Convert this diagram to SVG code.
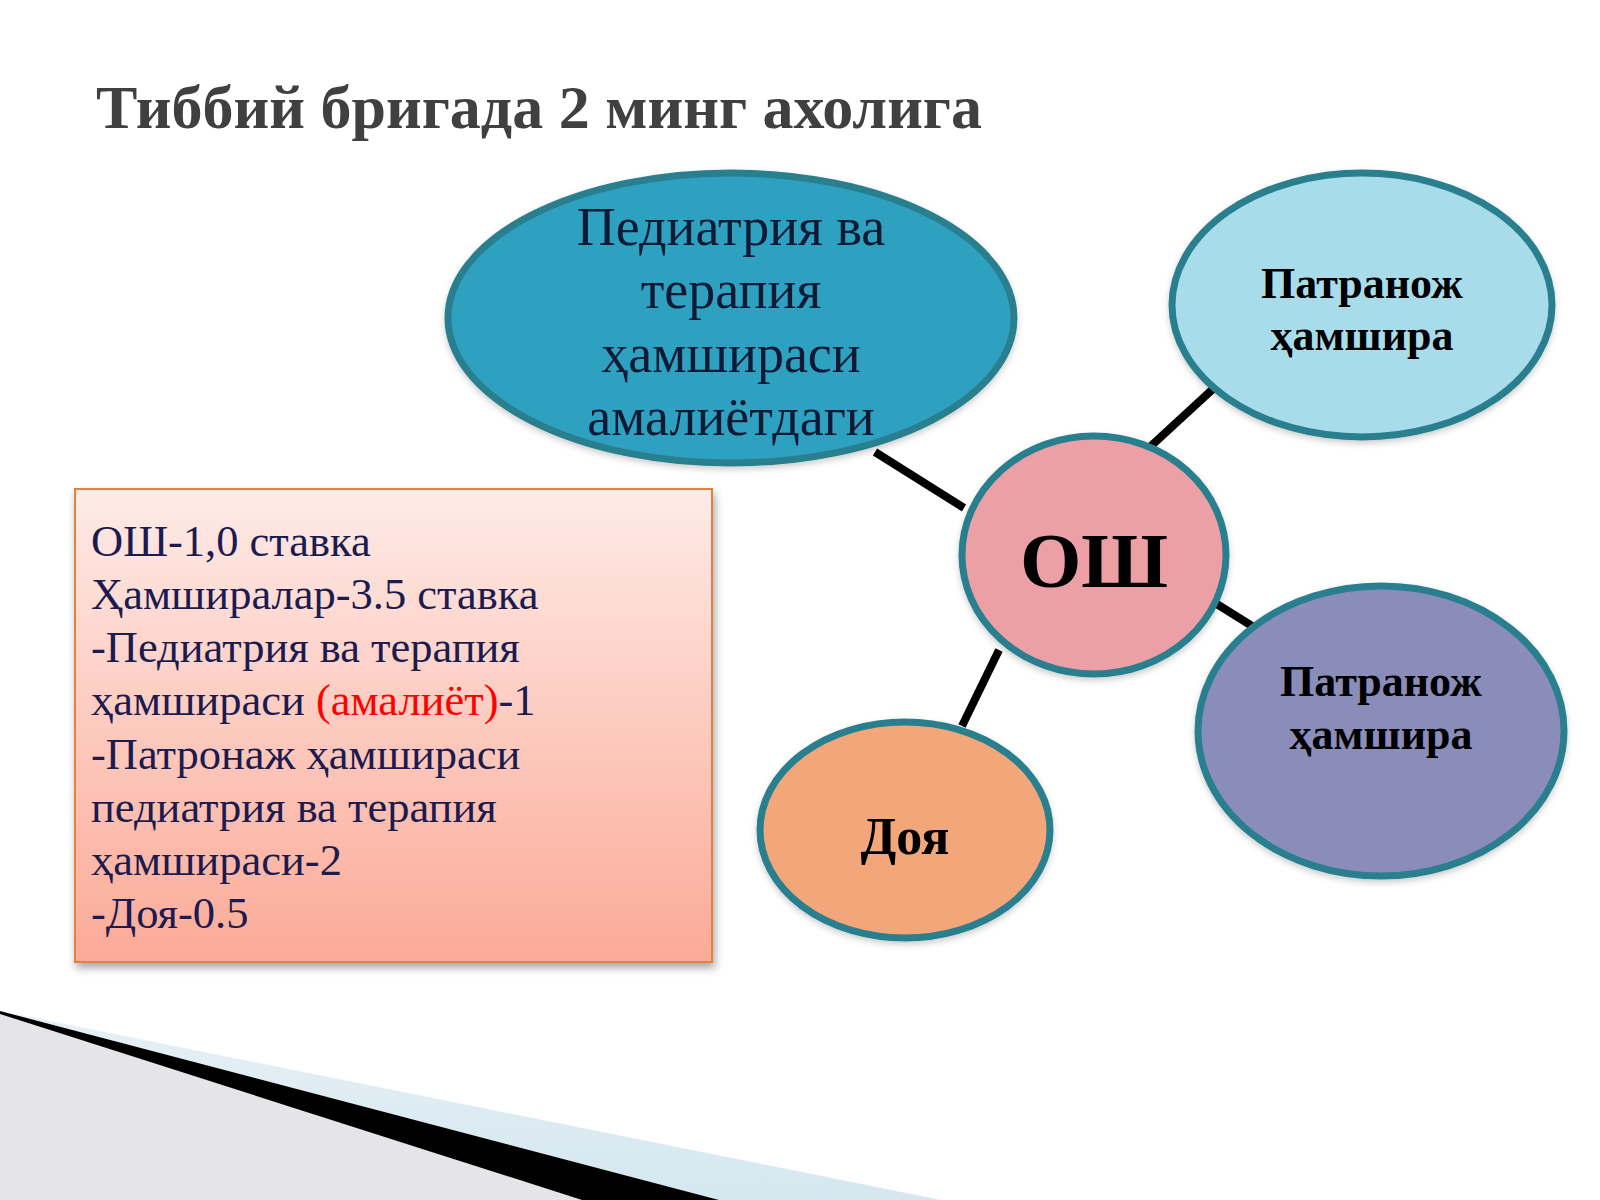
<svg xmlns="http://www.w3.org/2000/svg" width="1600" height="1200" viewBox="0 0 1600 1200">
  <defs>
    <linearGradient id="boxGrad" x1="0" y1="0" x2="0" y2="1">
      <stop offset="0" stop-color="#feebe7"/>
      <stop offset="1" stop-color="#fbaa97"/>
    </linearGradient>
    <linearGradient id="blueBand" x1="0" y1="0" x2="0" y2="1">
      <stop offset="0" stop-color="#e6f1f6"/>
      <stop offset="1" stop-color="#d5e7ef"/>
    </linearGradient>
    <filter id="shadow" x="-10%" y="-10%" width="130%" height="130%">
      <feDropShadow dx="2" dy="5" stdDeviation="4" flood-color="#000" flood-opacity="0.35"/>
    </filter>
    <filter id="soft" x="-10%" y="-10%" width="130%" height="130%">
      <feDropShadow dx="0" dy="3" stdDeviation="3" flood-color="#000" flood-opacity="0.2"/>
    </filter>
  </defs>
  <style>
    .title { font-family: "Liberation Serif", "Times New Roman", serif; font-weight: bold; font-size: 62px; fill: #404040; }
    .node { stroke: #2a7f8e; stroke-width: 7; }
    .lbl { font-family: "Liberation Serif", "Times New Roman", serif; text-anchor: middle; }
    .bold { font-weight: bold; fill: #000; }
    .reg { fill: #101a35; font-size: 54px; }
    .box { font-family: "Liberation Serif", "Times New Roman", serif; font-size: 44.5px; fill: #1b1b4f; }
    .red { fill: #ff0000; }
    .conn { stroke: #000; stroke-width: 8; stroke-linecap: butt; }
  </style>

  <rect width="1600" height="1200" fill="#ffffff"/>

  <!-- bottom decoration -->
  <polygon points="0,1011 941,1200 719,1200" fill="url(#blueBand)"/>
  <polygon points="0,1013 582,1200 0,1200" fill="#e5e5e8"/>
  <polygon points="0,1011 719,1200 582,1200 0,1014" fill="#000"/>

  <text class="title" x="96" y="128">Тиббий бригада 2 минг ахолига</text>

  <g id="connectors">
    <line class="conn" x1="875" y1="452" x2="964" y2="508"/>
    <line class="conn" x1="1151" y1="446" x2="1214" y2="388"/>
    <line class="conn" x1="1212" y1="601" x2="1252" y2="626"/>
    <line class="conn" x1="999" y1="650" x2="962" y2="726"/>
  </g>

  <g id="node-pediatria">
    <ellipse class="node" cx="731" cy="318" rx="283" ry="145" fill="#2ea1c1" filter="url(#soft)"/>
    <text class="lbl reg" x="731" y="245">Педиатрия ва</text>
    <text class="lbl reg" x="731" y="308">терапия</text>
    <text class="lbl reg" x="731" y="372">ҳамшираси</text>
    <text class="lbl reg" x="731" y="435">амалиётдаги</text>
  </g>

  <g id="node-patronazh1">
    <ellipse class="node" cx="1362" cy="305" rx="190" ry="132" fill="#a8dcea" filter="url(#soft)"/>
    <text class="lbl bold" x="1362" y="298" font-size="44">Патранож</text>
    <text class="lbl bold" x="1362" y="350" font-size="44">ҳамшира</text>
  </g>

  <g id="node-osh">
    <ellipse class="node" cx="1094" cy="555" rx="132" ry="119" fill="#eca0a6" filter="url(#soft)"/>
    <text class="lbl bold" x="1094" y="587" font-size="79">ОШ</text>
  </g>

  <g id="node-patronazh2">
    <ellipse class="node" cx="1381" cy="731" rx="183" ry="145" fill="#8a8cb9" filter="url(#soft)"/>
    <text class="lbl bold" x="1381" y="696" font-size="44">Патранож</text>
    <text class="lbl bold" x="1381" y="749" font-size="44">ҳамшира</text>
  </g>

  <g id="node-doya">
    <ellipse class="node" cx="905" cy="830" rx="145" ry="108" fill="#f2a67a" filter="url(#soft)"/>
    <text class="lbl bold" x="905" y="854" font-size="52">Доя</text>
  </g>

  <g id="info-box">
    <rect x="75" y="489" width="637" height="473" fill="url(#boxGrad)" stroke="#e8803c" stroke-width="2" filter="url(#shadow)"/>
    <text class="box" x="91" y="556">ОШ-1,0 ставка</text>
    <text class="box" x="91" y="609">Ҳамширалар-3.5 ставка</text>
    <text class="box" x="91" y="662">-Педиатрия ва терапия</text>
    <text class="box" x="91" y="715">ҳамшираси <tspan class="red">(амалиёт)</tspan>-1</text>
    <text class="box" x="91" y="769">-Патронаж ҳамшираси</text>
    <text class="box" x="91" y="822">педиатрия ва терапия</text>
    <text class="box" x="91" y="875">ҳамшираси-2</text>
    <text class="box" x="91" y="928">-Доя-0.5</text>
  </g>
</svg>
